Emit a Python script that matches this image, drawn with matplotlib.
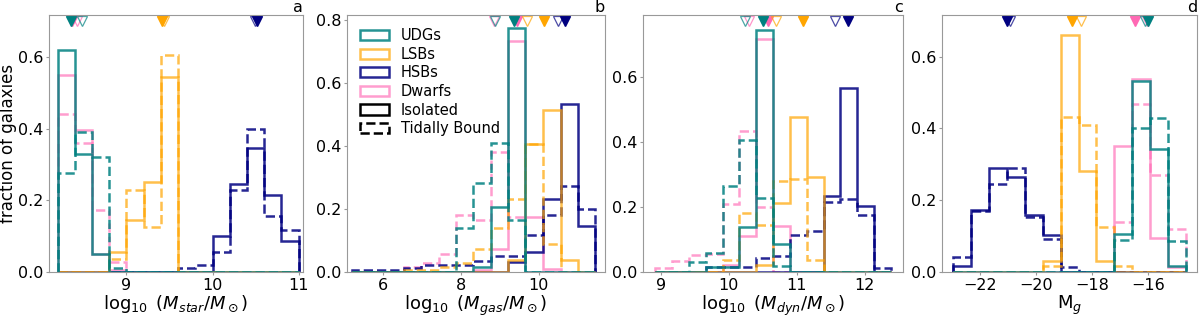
import matplotlib
matplotlib.use("Agg")
import matplotlib.pyplot as plt
from matplotlib.patches import Patch

# ---- panel a : stellar mass ----
mstar_edges = [8.2, 8.4, 8.6, 8.8, 9.0, 9.2, 9.4, 9.6, 9.8, 10.0, 10.2, 10.4, 10.6, 10.8, 11.0]
mstar_udg_iso = [0.62, 0.33, 0.05, 0, 0, 0, 0, 0, 0, 0, 0, 0, 0, 0]
mstar_udg_tid = [0.275, 0.39, 0.32, 0.012, 0, 0, 0, 0, 0, 0, 0, 0, 0, 0]
mstar_lsb_iso = [0, 0, 0, 0.057, 0.145, 0.25, 0.545, 0, 0, 0, 0, 0, 0, 0]
mstar_lsb_tid = [0, 0, 0, 0.036, 0.23, 0.125, 0.605, 0, 0, 0, 0, 0, 0, 0]
mstar_hsb_iso = [0, 0, 0, 0, 0, 0, 0, 0, 0, 0.10, 0.245, 0.345, 0.215, 0.087]
mstar_hsb_tid = [0, 0, 0, 0, 0, 0, 0, 0.012, 0.02, 0.055, 0.23, 0.40, 0.155, 0.117]
mstar_dwarf_iso = [0.55, 0.395, 0.05, 0.005, 0, 0, 0, 0, 0, 0, 0, 0, 0, 0]
mstar_dwarf_tid = [0.44, 0.36, 0.172, 0.028, 0, 0, 0, 0, 0, 0, 0, 0, 0, 0]
mstar_medians_iso = {"UDGs": 8.36, "LSBs": 9.41, "HSBs": 10.52, "Dwarfs": 8.37}
mstar_medians_tid = {"UDGs": 8.48, "LSBs": 9.44, "HSBs": 10.49, "Dwarfs": 8.43}

# ---- panel b : gas mass ----
mgas_edges = [5.2, 5.65, 6.09, 6.54, 6.99, 7.43, 7.88, 8.32, 8.77, 9.21, 9.66, 10.11, 10.56, 11.0, 11.45]
mgas_udg_iso = [0, 0, 0, 0, 0, 0, 0, 0.016, 0.207, 0.775, 0, 0, 0, 0]
mgas_udg_tid = [0, 0, 0, 0, 0, 0, 0.141, 0.283, 0.411, 0.164, 0, 0, 0, 0]
mgas_lsb_iso = [0, 0, 0, 0, 0, 0, 0, 0, 0, 0.037, 0.408, 0.514, 0.039, 0]
mgas_lsb_tid = [0, 0, 0, 0.007, 0.007, 0.015, 0.029, 0.074, 0.141, 0.231, 0.408, 0.088, 0, 0]
mgas_hsb_iso = [0, 0, 0, 0, 0, 0, 0, 0, 0, 0.032, 0.064, 0.231, 0.533, 0.145]
mgas_hsb_tid = [0.0076, 0.0076, 0.0076, 0.014, 0.021, 0.021, 0.021, 0.035, 0.05, 0.05, 0.119, 0.182, 0.272, 0.2015]
mgas_dwarf_iso = [0, 0, 0, 0, 0, 0, 0, 0.005, 0.073, 0.735, 0.175, 0.008, 0, 0]
mgas_dwarf_tid = [0, 0, 0, 0.016, 0.027, 0.058, 0.18, 0.164, 0.381, 0.175, 0, 0, 0, 0]
mgas_medians_iso = {"UDGs": 9.37, "LSBs": 10.13, "HSBs": 10.67, "Dwarfs": 9.45}
mgas_medians_tid = {"UDGs": 8.88, "LSBs": 9.69, "HSBs": 10.5, "Dwarfs": 8.85}

# ---- panel c : dynamical mass ----
mdyn_edges = [8.91, 9.16, 9.41, 9.66, 9.91, 10.15, 10.40, 10.65, 10.90, 11.15, 11.40, 11.64, 11.89, 12.14, 12.39]
mdyn_udg_iso = [0, 0, 0, 0.015, 0.015, 0.138, 0.744, 0.087, 0, 0, 0, 0, 0, 0]
mdyn_udg_tid = [0, 0, 0.03, 0.057, 0.265, 0.407, 0.228, 0.018, 0, 0, 0, 0, 0, 0]
mdyn_lsb_iso = [0, 0, 0, 0, 0, 0, 0.02, 0.212, 0.475, 0.292, 0, 0, 0, 0]
mdyn_lsb_tid = [0, 0, 0, 0, 0.036, 0.18, 0.144, 0.28, 0.287, 0.036, 0, 0, 0, 0]
mdyn_hsb_iso = [0, 0, 0, 0, 0, 0, 0, 0, 0, 0, 0.233, 0.567, 0.203, 0]
mdyn_hsb_tid = [0, 0, 0, 0.014, 0.014, 0.015, 0.043, 0.049, 0.113, 0.126, 0.216, 0.223, 0.174, 0.013]
mdyn_dwarf_iso = [0, 0, 0, 0, 0.02, 0.11, 0.715, 0.14, 0, 0, 0, 0, 0, 0]
mdyn_dwarf_tid = [0.012, 0.035, 0.053, 0.055, 0.208, 0.434, 0.2, 0, 0, 0, 0, 0, 0, 0]
mdyn_medians_iso = {"UDGs": 10.51, "LSBs": 11.09, "HSBs": 11.75, "Dwarfs": 10.58}
mdyn_medians_tid = {"UDGs": 10.24, "LSBs": 10.69, "HSBs": 11.56, "Dwarfs": 10.3}

# ---- panel d : g-band magnitude ----
mg_edges = [-22.96, -22.32, -21.68, -21.05, -20.41, -19.77, -19.13, -18.49, -17.86, -17.22, -16.58, -15.94, -15.30, -14.67]
mg_udg_iso = [0, 0, 0, 0, 0, 0, 0, 0, 0, 0.107, 0.532, 0.344, 0.017]
mg_udg_tid = [0, 0, 0, 0, 0, 0, 0, 0, 0, 0.088, 0.40, 0.428, 0.087]
mg_lsb_iso = [0, 0, 0, 0, 0, 0.031, 0.66, 0.281, 0.03, 0, 0, 0, 0]
mg_lsb_tid = [0, 0, 0, 0, 0, 0.018, 0.431, 0.41, 0.124, 0.018, 0, 0, 0]
mg_hsb_iso = [0.017, 0.174, 0.289, 0.265, 0.158, 0.102, 0, 0, 0, 0, 0, 0, 0]
mg_hsb_tid = [0.042, 0.17, 0.245, 0.29, 0.153, 0.091, 0.014, 0, 0, 0, 0, 0, 0]
mg_dwarf_iso = [0, 0, 0, 0, 0, 0, 0, 0, 0, 0.352, 0.537, 0.096, 0.015]
mg_dwarf_tid = [0, 0, 0, 0, 0, 0, 0, 0, 0, 0.138, 0.467, 0.27, 0.119]
mg_medians_iso = {"UDGs": -16.0, "LSBs": -18.71, "HSBs": -21.06, "Dwarfs": -16.49}
mg_medians_tid = {"UDGs": -16.12, "LSBs": -18.39, "HSBs": -20.94, "Dwarfs": -16.06}

colors = {"UDGs": "teal", "LSBs": "orange", "HSBs": "navy", "Dwarfs": "hotpink"}
alphas = {"UDGs": 0.85, "LSBs": 0.7, "HSBs": 0.85, "Dwarfs": 0.65}
draw_order = ["Dwarfs", "HSBs", "LSBs", "UDGs"]
legend_order = ["UDGs", "LSBs", "HSBs", "Dwarfs"]

panels = [
    dict(edges=mstar_edges,
         iso={"UDGs": mstar_udg_iso, "LSBs": mstar_lsb_iso, "HSBs": mstar_hsb_iso, "Dwarfs": mstar_dwarf_iso},
         tid={"UDGs": mstar_udg_tid, "LSBs": mstar_lsb_tid, "HSBs": mstar_hsb_tid, "Dwarfs": mstar_dwarf_tid},
         med_iso=mstar_medians_iso, med_tid=mstar_medians_tid,
         xlabel=r'$\log_{10}\ (M_{star}/M_\odot)$', tag='a',
         xlim=(8.1, 11.05), ylim=0.717, xticks=[9, 10, 11], yticks=[0, 0.2, 0.4, 0.6],
         box=[49, 272, 254, 257]),
    dict(edges=mgas_edges,
         iso={"UDGs": mgas_udg_iso, "LSBs": mgas_lsb_iso, "HSBs": mgas_hsb_iso, "Dwarfs": mgas_dwarf_iso},
         tid={"UDGs": mgas_udg_tid, "LSBs": mgas_lsb_tid, "HSBs": mgas_hsb_tid, "Dwarfs": mgas_dwarf_tid},
         med_iso=mgas_medians_iso, med_tid=mgas_medians_tid,
         xlabel=r'$\log_{10}\ (M_{gas}/M_\odot)$', tag='b',
         xlim=(5.08, 11.7), ylim=0.816, xticks=[6, 8, 10], yticks=[0, 0.2, 0.4, 0.6, 0.8],
         box=[347, 272, 258, 257]),
    dict(edges=mdyn_edges,
         iso={"UDGs": mdyn_udg_iso, "LSBs": mdyn_lsb_iso, "HSBs": mdyn_hsb_iso, "Dwarfs": mdyn_dwarf_iso},
         tid={"UDGs": mdyn_udg_tid, "LSBs": mdyn_lsb_tid, "HSBs": mdyn_hsb_tid, "Dwarfs": mdyn_dwarf_tid},
         med_iso=mdyn_medians_iso, med_tid=mdyn_medians_tid,
         xlabel=r'$\log_{10}\ (M_{dyn}/M_\odot)$', tag='c',
         xlim=(8.74, 12.56), ylim=0.79, xticks=[9, 10, 11, 12], yticks=[0, 0.2, 0.4, 0.6],
         box=[643, 272, 260, 257]),
    dict(edges=mg_edges,
         iso={"UDGs": mg_udg_iso, "LSBs": mg_lsb_iso, "HSBs": mg_hsb_iso, "Dwarfs": mg_dwarf_iso},
         tid={"UDGs": mg_udg_tid, "LSBs": mg_lsb_tid, "HSBs": mg_hsb_tid, "Dwarfs": mg_dwarf_tid},
         med_iso=mg_medians_iso, med_tid=mg_medians_tid,
         xlabel=r'M$_g$', tag='d',
         xlim=(-23.37, -14.26), ylim=0.716, xticks=[-22, -20, -18, -16], yticks=[0, 0.2, 0.4, 0.6],
         box=[942, 272, 255, 257]),
]

W, H = 1200, 316
fig = plt.figure(figsize=(W / 100, H / 100), dpi=100)

for i, p in enumerate(panels):
    x0, ybot, w, h = p["box"]
    ax = fig.add_axes([x0 / W, (H - ybot) / H, w / W, h / H])
    for name in draw_order:
        ax.stairs(p["tid"][name], p["edges"], baseline=0, color=colors[name],
                  alpha=alphas[name], lw=1.8, ls='--')
        ax.stairs(p["iso"][name], p["edges"], baseline=0, color=colors[name],
                  alpha=alphas[name], lw=1.8, ls='-')
    # median markers along the top edge
    tr = ax.get_xaxis_transform()
    for name in draw_order:
        ax.plot(p["med_tid"][name], 0.975, marker='v', ms=7, mfc='none', mec=colors[name],
                alpha=0.7, mew=0.9, transform=tr, clip_on=False, ls='none')
        ax.plot(p["med_iso"][name], 0.975, marker='v', ms=7, mfc=colors[name], mec=colors[name],
                transform=tr, clip_on=False, ls='none')

    ax.set_xlim(*p["xlim"])
    ax.set_ylim(0, p["ylim"])
    ax.set_xticks(p["xticks"])
    ax.set_yticks(p["yticks"])
    ax.set_yticklabels([f"{v:.1f}" for v in p["yticks"]])
    ax.tick_params(labelsize=11.5, color='#999999', length=2.5, pad=1.5)
    for s in ax.spines.values():
        s.set_color('#999999')
    ax.set_xlabel(p["xlabel"], fontsize=13)
    ax.xaxis.set_label_coords(0.5, -0.083)
    ax.set_title(p["tag"], loc='right', fontsize=11.5, pad=2)
    if i == 0:
        ax.set_ylabel('fraction of galaxies', fontsize=12)
        ax.yaxis.set_label_coords(-0.126, 0.5)
    if i == 1:
        handles = [Patch(facecolor='none', edgecolor=colors[n], alpha=alphas[n], lw=1.8, label=n)
                   for n in legend_order]
        handles.append(Patch(facecolor='none', edgecolor='black', lw=1.8, label='Isolated'))
        handles.append(Patch(facecolor='none', edgecolor='black', lw=1.8, ls='--', label='Tidally Bound'))
        ax.legend(handles=handles, loc='upper left', frameon=False, fontsize=10.5,
                  labelspacing=0.25, handlelength=2.0)

fig.savefig("out.png", dpi=100)
